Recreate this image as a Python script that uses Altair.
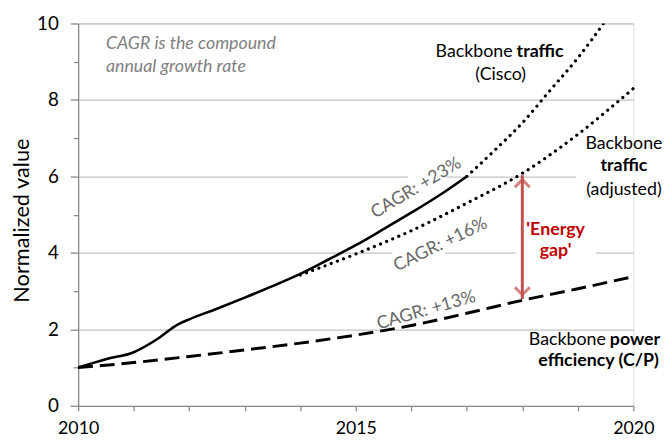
import altair as alt
import pandas as pd

# ---- data ----
actual_years = [2010, 2010.5, 2011, 2011.4, 2011.8, 2012, 2012.5, 2013, 2013.5, 2014, 2014.5, 2015, 2015.5, 2016, 2016.5, 2017]
actual_vals = [1.0, 1.22, 1.4, 1.72, 2.13, 2.26, 2.54, 2.83, 3.13, 3.45, 3.82, 4.2, 4.62, 5.05, 5.5, 6.0]

cisco_years = [2016, 2016.5, 2017, 2017.5, 2018, 2018.5, 2019, 2019.5, 2020]
cisco_vals = [5.05, 5.5, 6.0, 6.68, 7.4, 8.25, 9.1, 10.08, 11.2]

adjusted_years = [2014, 2015, 2016, 2017, 2018, 2019, 2020]
adjusted_vals = [3.42, 3.97, 4.58, 5.3, 6.08, 7.1, 8.3]

power_years = [2010, 2011, 2012, 2013, 2014, 2015, 2016, 2017, 2018, 2019, 2020]
power_vals = [1.0, 1.13, 1.29, 1.46, 1.64, 1.85, 2.1, 2.42, 2.76, 3.06, 3.38]

gap_year = 2018
gap_top = 6.03
gap_bottom = 2.79

FONT = "Lato"
TXT = 18

xscale = alt.Scale(domain=[2010, 2020], nice=False, zero=False)
yscale = alt.Scale(domain=[0, 10], nice=False)

xaxis = alt.Axis(
    values=list(range(2010, 2021)), format="d",
    labelExpr="datum.value % 5 === 0 ? datum.label : ''",
    grid=False, tickSize=5, tickColor="#898989", domainColor="#898989",
    tickWidth=1.3, domainWidth=1.3,
    labelFont=FONT, labelFontSize=18, labelColor="#000000", labelPadding=9,
    labelFlush=False, labelOverlap=False, title=None,
)
yaxis = alt.Axis(
    values=list(range(0, 11)),
    labelExpr="datum.value % 2 === 0 ? datum.label : ''",
    tickSize={"condition": {"test": "datum.value % 2 === 0", "value": 8}, "value": 5},
    gridOpacity={"condition": {"test": "datum.value % 2 === 0 && datum.value > 0", "value": 1}, "value": 0},
    grid=True, gridColor="#c3c3c3", gridWidth=1.3,
    tickColor="#898989", domainColor="#898989", tickWidth=1.3, domainWidth=1.3,
    labelFont=FONT, labelFontSize=19, labelColor="#000000", labelPadding=12,
    title="Normalized value", titleFont=FONT, titleFontSize=22, titleFontWeight="normal",
    titleColor="#000000", titleX=-57, titleY=199, titleBaseline="middle", titleAngle=270,
)

X = alt.X("year:Q", scale=xscale, axis=xaxis)
Y = alt.Y("value:Q", scale=yscale, axis=yaxis)


def frame(years, vals):
    return pd.DataFrame({"year": years, "value": vals})


# white boxes behind labels that interrupt the gridlines
gaps = pd.DataFrame({
    "x1": [2015.94, 2018.97, 2015.66, 2017.88],
    "x2": [2016.64, 2020.6, 2016.6, 2019.32],
    "y1": [5.85, 5.85, 3.85, 3.85],
    "y2": [6.15, 6.15, 4.15, 4.15],
})
gap_layer = alt.Chart(gaps).mark_rect(color="white", clip=False).encode(
    x=alt.X("x1:Q", scale=xscale, axis=xaxis), x2="x2:Q",
    y=alt.Y("y1:Q", scale=yscale, axis=yaxis), y2="y2:Q",
)

actual_layer = alt.Chart(frame(actual_years, actual_vals)).mark_line(
    color="black", strokeWidth=2.6, interpolate="monotone"
).encode(x=X, y=Y)

cisco_df = frame(cisco_years, cisco_vals)
cisco_layer = alt.Chart(cisco_df).transform_filter("datum.year >= 2017").mark_line(
    color="black", strokeWidth=3.2, strokeDash=[0.1, 6.6], strokeCap="round",
    interpolate="monotone", clip=True
).encode(x=X, y=Y)

adjusted_layer = alt.Chart(frame(adjusted_years, adjusted_vals)).mark_line(
    color="black", strokeWidth=3.2, strokeDash=[0.1, 6.6], strokeCap="round",
    interpolate="monotone"
).encode(x=X, y=Y)

power_layer = alt.Chart(frame(power_years, power_vals)).mark_line(
    color="black", strokeWidth=3, strokeDash=[15, 7], interpolate="monotone"
).encode(x=X, y=Y)

# energy gap arrow
arrow_df = pd.DataFrame({"year": [gap_year], "value": [gap_top], "value2": [gap_bottom]})
arrow_color = "#c0504d"
arrow_shaft = alt.Chart(arrow_df).mark_rule(color=arrow_color, strokeWidth=3).encode(
    x=X, y=Y, y2="value2:Q"
)
heads = pd.DataFrame({"year": [gap_year, gap_year], "value": [gap_top, gap_bottom],
                      "dir": ["up", "down"]})
head_up = alt.Chart(heads[heads.dir == "up"]).mark_point(
    shape="M-1,1L0,0L1,1", size=230, filled=False, color=arrow_color, strokeWidth=3,
    strokeJoin="miter", yOffset=4.5
).encode(x=X, y=Y)
head_down = alt.Chart(heads[heads.dir == "down"]).mark_point(
    shape="M-1,-1L0,0L1,-1", size=230, filled=False, color=arrow_color, strokeWidth=3,
    strokeJoin="miter", yOffset=-4.5
).encode(x=X, y=Y)


def text_layer(df, **kw):
    base = dict(font=FONT, fontSize=TXT, baseline="middle")
    base.update(kw)
    return alt.Chart(df).mark_text(**base).encode(x=X, y=Y, text="text:N")


def tdf(year, value, text):
    return pd.DataFrame({"year": [year], "value": [value], "text": [text]})


texts = [
    text_layer(pd.DataFrame({"year": [2010.5, 2010.5], "value": [9.46, 8.87],
                             "text": ["CAGR is the compound", "annual growth rate"]}),
               align="left", fontStyle="italic", color="#7f7f7f"),
    # Cisco label
    text_layer(tdf(2017.86, 9.26, "Backbone"), align="right", dx=-2, color="#000000"),
    text_layer(tdf(2017.86, 9.26, "traffic"), align="left", dx=2, fontWeight="bold", color="#000000"),
    text_layer(tdf(2017.61, 8.66, "(Cisco)"), align="center", color="#000000"),
    # adjusted label
    text_layer(tdf(2019.83, 6.85, "Backbone"), align="center", color="#000000"),
    text_layer(tdf(2019.83, 6.27, "traffic"), align="center", fontWeight="bold", color="#000000"),
    text_layer(tdf(2019.83, 5.64, "(adjusted)"), align="center", color="#000000"),
    # power label
    text_layer(tdf(2019.54, 1.71, "Backbone"), align="right", dx=-2, color="#000000"),
    text_layer(tdf(2019.54, 1.71, "power"), align="left", dx=2, fontWeight="bold", color="#000000"),
    text_layer(tdf(2020.46, 1.16, "efficiency (C/P)"), align="right", fontWeight="bold", color="#000000"),
    # energy gap
    text_layer(pd.DataFrame({"year": [2018.6, 2018.6], "value": [4.6, 4.04],
                             "text": ["'Energy", "gap'"]}),
               align="center", fontWeight="bold", color="#c00000"),
    # CAGR labels
    text_layer(tdf(2016.09, 5.69, "CAGR: +23%"), align="center", angle=329, color="#686868"),
    text_layer(tdf(2016.53, 4.21, "CAGR: +16%"), align="center", angle=334, color="#686868"),
    text_layer(tdf(2016.27, 2.49, "CAGR: +13%"), align="center", angle=344, color="#686868"),
]

chart = alt.layer(
    gap_layer, actual_layer, cisco_layer, adjusted_layer, power_layer,
    arrow_shaft, head_up, head_down, *texts
).properties(
    width=562, height=387,
    autosize=alt.AutoSizeParams(type="none"),
    padding={"left": 71, "top": 13, "right": 30, "bottom": 35},
).configure_view(stroke=None).configure(background="white")

chart.save("out.html", embed_options={"renderer": "svg", "actions": False})
